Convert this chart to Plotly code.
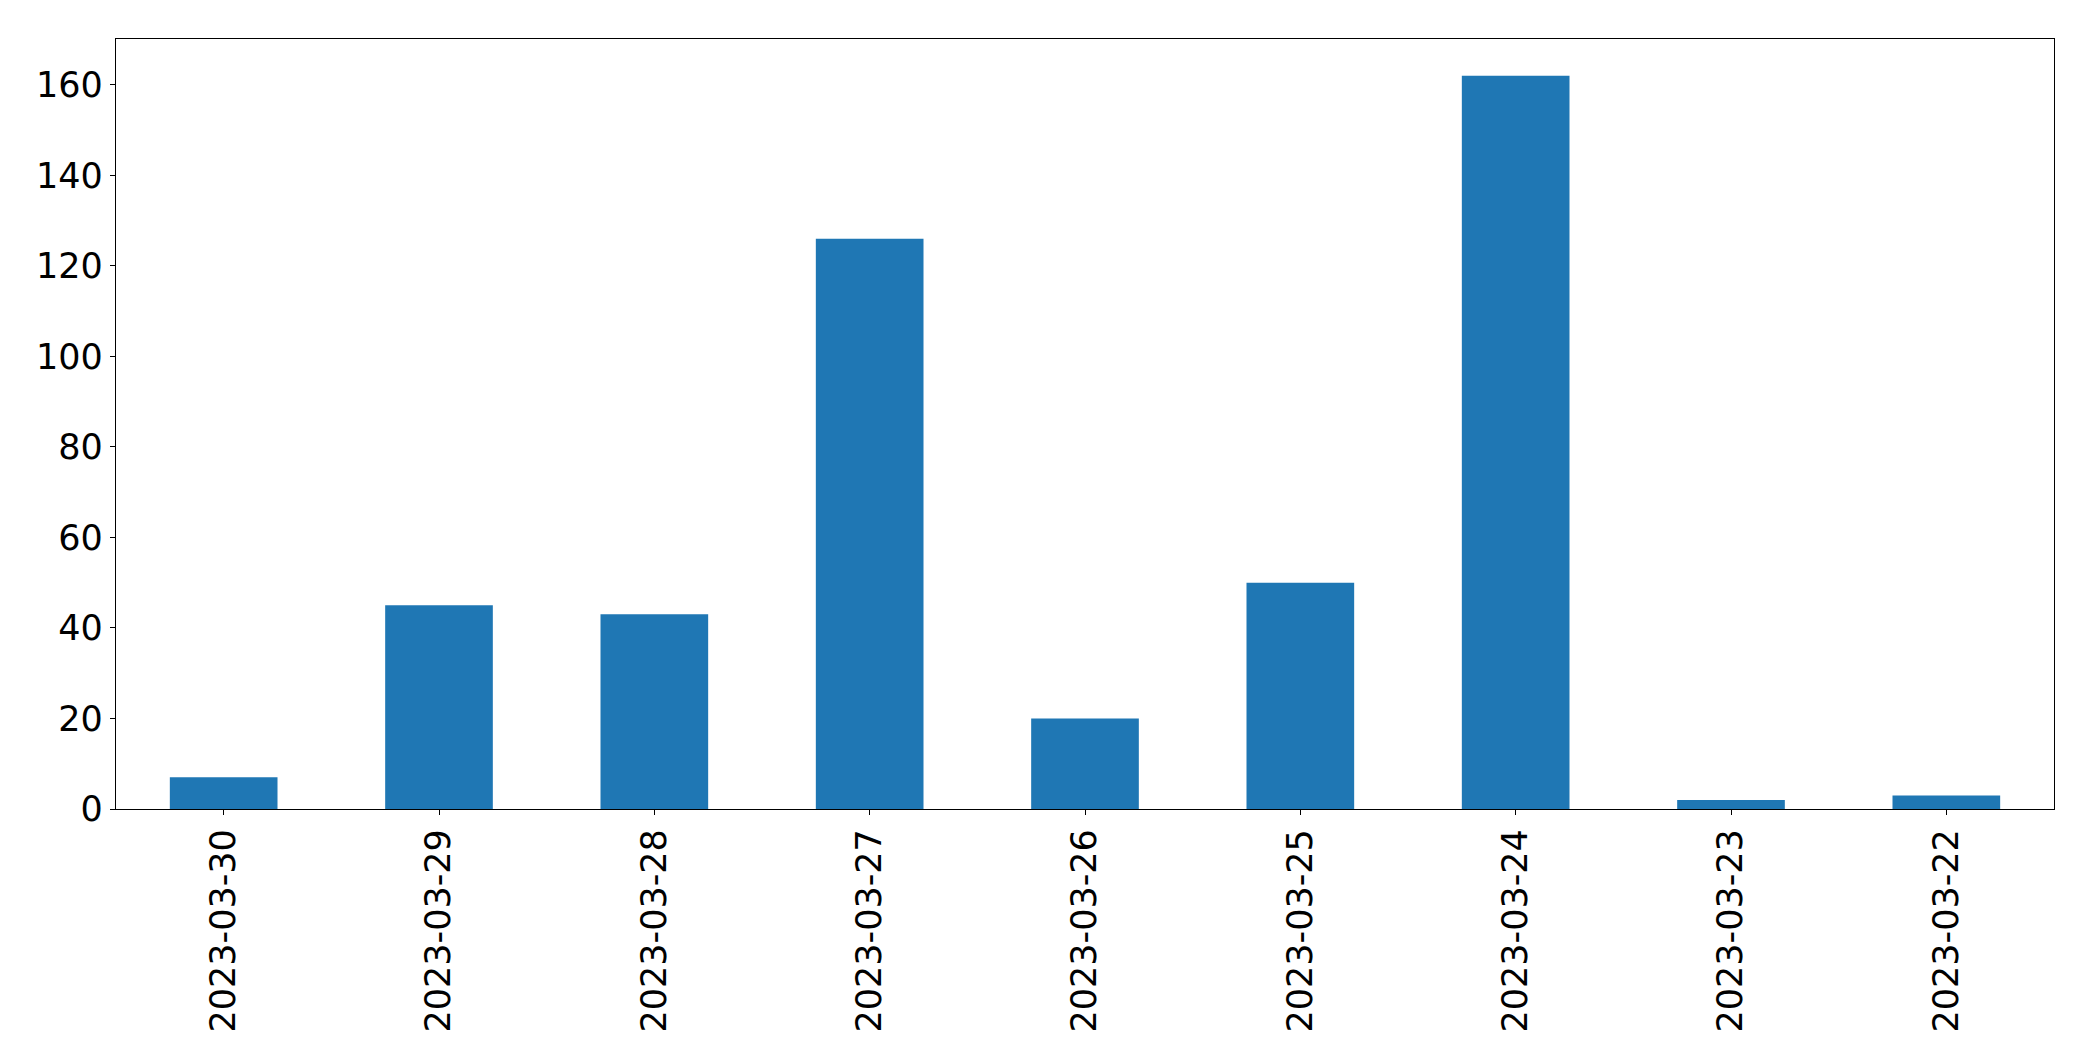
import plotly.graph_objects as go

dates = ["2023-03-30", "2023-03-29", "2023-03-28", "2023-03-27", "2023-03-26",
         "2023-03-25", "2023-03-24", "2023-03-23", "2023-03-22"]
counts = [7, 45, 43, 126, 20, 50, 162, 2, 3]
y_ticks = [0, 20, 40, 60, 80, 100, 120, 140, 160]

fig = go.Figure(go.Bar(
    x=dates, y=counts, width=0.5,
    marker=dict(color="#1f77b4", line=dict(width=0)),
    hoverinfo="skip",
))

axis_common = dict(
    showline=True, linecolor="black", linewidth=1.3, mirror=True,
    ticks="outside", ticklen=5, tickwidth=1.3, tickcolor="black",
    showgrid=False, zeroline=False,
    tickfont=dict(family="DejaVu Sans", size=35, color="black"),
)

fig.update_layout(
    width=2077, height=1045, autosize=False,
    margin=dict(l=108, r=31, t=31, b=244),
    paper_bgcolor="white", plot_bgcolor="white",
    showlegend=False,
    xaxis=dict(type="category", tickangle=-90, range=[-0.5, len(dates) - 0.5],
               ticklabelstandoff=0, **axis_common),
    yaxis=dict(range=[0, max(counts) * 1.05], tickmode="array", tickvals=y_ticks,
               ticklabelstandoff=0, **axis_common),
)

fig.write_html("out.html")
